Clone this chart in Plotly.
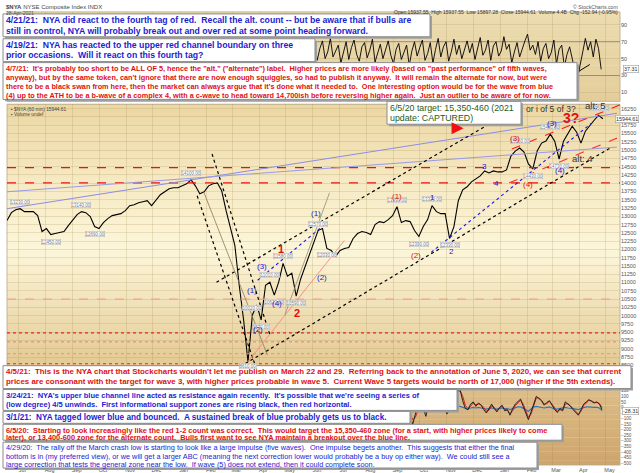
import pandas as pd
import plotly.graph_objects as go

# --- data --------------------------------------------------------------------
# NYA 60-min chart, sampled every 5 calendar days
price_dates = pd.date_range("2019-06-18", periods=137, freq="5D")
nya_close = [12870, 13110, 13200, 13230, 13140, 13140, 13140, 13020, 12540, 12630,
             12450, 12480, 12510, 12540, 12720, 12900, 13050, 13140, 13110, 12990,
             12690, 12630, 12810, 12930, 13020, 13050, 13080, 13170, 13320, 13350,
             13410, 13440, 13470, 13320, 13500, 13650, 13740, 13830, 13860, 13860,
             13920, 13980, 14100, 13920, 13680, 13740, 13920, 13980, 14010, 13770,
             13170, 12630, 12120, 10920, 9870, 8610, 10020, 10320, 9870, 10920,
             11010, 10620, 11010, 11580, 11190, 11280, 10590, 11100, 11460, 11820,
             12180, 12570, 12630, 12030, 11970, 11790, 11970, 12030, 12060, 12330,
             12480, 12540, 12510, 12450, 12750, 12840, 12810, 12900, 13020, 13290,
             12810, 12870, 12840, 12570, 12390, 12690, 12900, 13320, 13140, 13080,
             13080, 12330, 12690, 13470, 13800, 13890, 14040, 14130, 14220, 14370,
             14310, 14370, 14340, 14340, 14400, 14820, 14970, 15060, 14940, 14580,
             14430, 14970, 15210, 15270, 15480, 15270, 14730, 15270, 15480, 15720,
             15540, 15210, 15570, 15750, 15900, 16050, 15944.61]

# RSI panel (only the visible right part), every 3 days
rsi_dates = pd.date_range("2020-05-31", periods=111, freq="3D")
rsi = [55, 68, 48, 62, 71, 50, 58, 74, 52, 60,
       66, 45, 57, 70, 49, 63, 72, 55, 47, 64,
       69, 51, 60, 73, 46, 58, 67, 50, 62, 71,
       54, 44, 61, 68, 49, 57, 66, 42, 59, 70,
       53, 63, 72, 48, 56, 69, 45, 61, 74, 52,
       64, 70, 47, 58, 73, 55, 66, 50, 62, 71,
       57, 68, 49, 63, 75, 54, 60, 72, 48, 65,
       70, 53, 59, 76, 61, 67, 45, 58, 69, 52,
       63, 71, 79, 60, 66, 55, 70, 47, 62, 68,
       50, 57, 72, 44, 61, 66, 40, 55, 64, 48,
       36, 27, 45, 58, 74, 60, 70, 52, 73, 62, 37.31]

# lower indicator panel (visible right part), every 3 days
osc_dates = pd.date_range("2020-09-14", periods=76, freq="3D")
osc_black = [40, -20, -90, -150, -60, 20, 60, -10, -80, 30,
             90, 40, -30, 20, 70, 10, -60, -20, 50, 110,
             150, 160, 60, -10, -20, 30, 50, 10, 40, 20,
             -20, -50, -10, 30, -10, -40, 0, 20, -30, -20,
             -70, -10, 30, 50, 75, 10, -60, -110, -40, 40,
             100, 80, 60, 20, 45, 60, 20, -20, -45, -10,
             -30, 50, 30, 10, -20, -50, -70, -20, 30, 50,
             70, 55, 40, 50, 30, -20]
osc_red = [30, 0, -60, -110, -90, -20, 40, 20, -50, 0,
           60, 55, 0, 10, 50, 30, -30, -30, 20, 80,
           130, 150, 100, 20, -10, 10, 40, 25, 30, 25,
           0, -35, -25, 15, 0, -30, -10, 10, -15, -25,
           -55, -30, 15, 40, 65, 30, -35, -90, -60, 15,
           85, 85, 65, 30, 35, 55, 30, -5, -35, -20,
           -25, 30, 35, 15, -10, -40, -60, -35, 15, 40,
           65, 60, 45, 45, 35, 0]
osc_blue = [-5, -10, -25, -40, -30, -10, 0, -5, -20, -10,
            5, 0, -10, -5, 5, 0, -15, -10, 0, 10,
            15, 10, 0, -10, -15, -5, 0, -5, 0, -5,
            -10, -15, -10, -5, -10, -15, -10, -5, -10, -10,
            -20, -10, 0, 5, 5, -5, -20, -35, -15, 5,
            10, 5, 0, -5, 0, 5, -5, -15, -15, -10,
            -10, 0, -5, -5, -10, -15, -20, -10, 0, 5,
            5, 0, 0, 0, -5, -28.31]

# horizontal support/resistance levels
red_levels = [14470, 14010]
low_levels = [10500, 9480, 9210, 8850, 8550]

# peaks / troughs that carry a price tag
tag_tops = [3, 17, 42, 56, 60, 63, 71, 89, 97, 117, 124, 135]
tag_bottoms = [10, 20, 55, 58, 61, 66, 73, 94, 101, 120, 126]

FONT = "Liberation Sans, Arial, sans-serif"
BLUE = "#1c1cd2"
RED = "#e01010"


def px(x):
    return x / 640


def py(y):
    return 1 - y / 473


def mix(c1, c2, t):
    a = [int(c1[i:i + 2], 16) for i in (1, 3, 5)]
    b = [int(c2[i:i + 2], 16) for i in (1, 3, 5)]
    return "rgb(%d,%d,%d)" % tuple(round(a[k] + (b[k] - a[k]) * t) for k in range(3))


fig = go.Figure()

fig.add_trace(go.Scatter(x=price_dates, y=nya_close, mode="lines", yaxis="y2",
                         line=dict(color="black", width=1.1), hoverinfo="skip"))
fig.add_trace(go.Scatter(x=rsi_dates, y=rsi, mode="lines", yaxis="y3",
                         line=dict(color="black", width=0.9), hoverinfo="skip"))
fig.add_trace(go.Scatter(x=osc_dates, y=osc_blue, mode="lines", yaxis="y",
                         line=dict(color="#2f78c0", width=1.2), hoverinfo="skip"))
fig.add_trace(go.Scatter(x=osc_dates, y=osc_red, mode="lines", yaxis="y",
                         line=dict(color="#d42020", width=1), hoverinfo="skip"))
fig.add_trace(go.Scatter(x=osc_dates, y=osc_black, mode="lines", yaxis="y",
                         line=dict(color="#222", width=1), hoverinfo="skip"))

shapes = []
edge = "#b8a888"

# gradient backgrounds (bands) plus a thin frame per panel
def gradient(yref, stops, n=40):
    for i in range(n):
        t0, t1 = i / n, (i + 1) / n
        tm = (t0 + t1) / 2
        for j in range(len(stops) - 1):
            if stops[j][0] <= tm <= stops[j + 1][0]:
                f = (tm - stops[j][0]) / (stops[j + 1][0] - stops[j][0])
                col = mix(stops[j][1], stops[j + 1][1], f)
                break
        shapes.append(dict(type="rect", xref="x domain", yref=yref + " domain",
                           x0=0, x1=1, y0=t0, y1=t1 + 0.002, fillcolor=col,
                           line=dict(width=0), layer="below"))
    shapes.append(dict(type="rect", xref="x domain", yref=yref + " domain",
                       x0=0, x1=1, y0=0, y1=1, fillcolor="rgba(0,0,0,0)",
                       line=dict(color=edge, width=0.8), layer="below"))

gradient("y2", [(0, "#e3c790"), (0.45, "#fcf6d9"), (0.7, "#f6eac4"), (1, "#ecd7a4")])
gradient("y3", [(0, "#e3cd9a"), (1, "#ecdcb0")], n=20)
gradient("y", [(0, "#cea46b"), (1, "#e0c38f")], n=20)

# RSI 30/70 lines
for lv in (30, 70):
    shapes.append(dict(type="line", xref="x domain", yref="y3", x0=0, x1=1, y0=lv, y1=lv,
                       line=dict(color="#8a8070", width=0.8), layer="below"))

# horizontal levels on the price panel
for lv in red_levels:
    shapes.append(dict(type="line", xref="x domain", yref="y2", x0=0, x1=1, y0=lv, y1=lv,
                       line=dict(color="#ee1111", width=1.4, dash="dash")))
for lv, col in zip(low_levels, ["#f3a38f", "#ee2222", "#f58a80", "#f58a80", "#ee2222"]):
    shapes.append(dict(type="line", xref="x domain", yref="y2", x0=0, x1=1, y0=lv, y1=lv,
                       line=dict(color=col, width=1.1, dash="dash" if lv == 10500 else "dot")))

# trend lines (date0, price0, date1, price1, colour, width, dash)
trend = [
    ("2019-06-18", 13230, "2021-05-14", 16110, "#8c8ce6", 1, "solid"),
    ("2019-06-18", 13740, "2021-05-14", 15090, "#9a9ae6", 1, "solid"),
    ("2020-10-14", 11910, "2021-04-15", 15810, "#1414ff", 1.1, "dot"),
    ("2020-03-30", 11070, "2020-06-17", 12810, "#1414ff", 1.1, "dot"),
    ("2020-03-10", 8460, "2021-05-08", 15090, "black", 1.2, "dot"),
    ("2020-02-12", 11010, "2021-01-23", 16320, "black", 1.2, "dot"),
    ("2020-02-07", 14880, "2020-04-13", 9420, "black", 1.2, "dot"),
    ("2020-01-21", 13620, "2020-03-27", 8520, "black", 1.2, "dot"),
    ("2020-01-28", 13770, "2020-04-10", 8820, "#8a7a60", 0.8, "solid"),
    ("2020-03-19", 8610, "2020-07-07", 12270, "#f08a80", 0.9, "solid"),
    ("2020-04-30", 10020, "2020-06-20", 13710, "#9a8a70", 0.8, "solid"),
    ("2021-01-14", 15030, "2021-05-19", 16380, "#ff1a1a", 1.1, "dash"),
    ("2021-01-11", 14010, "2021-05-14", 15360, "#ff3030", 1.1, "dash"),
]
for d0, p0, d1, p1, col, w, dash in trend:
    shapes.append(dict(type="line", xref="x", yref="y2", x0=d0, y0=p0, x1=d1, y1=p1,
                       line=dict(color=col, width=w, dash=dash)))
shapes.append(dict(type="line", xref="x", yref="y3", x0="2021-03-31", y0=34.7,
                   x1="2021-04-13", y1=43, line=dict(color="black", width=1)))

annotations = []

# price tags
for i in tag_tops + tag_bottoms:
    annotations.append(dict(x=price_dates[i], y=nya_close[i], xref="x", yref="y2",
                            text="%.2f" % nya_close[i], showarrow=False,
                            yshift=7 if i in tag_tops else (-4 if i == 55 else -7),
                            font=dict(family=FONT, size=4.5, color="#777"),
                            bgcolor="white", bordercolor="#aaa", borderwidth=0.5, borderpad=0))

# wave labels
waves = [
    ("(1)", "2020-03-23", 10770, BLUE, 8), ("(2)", "2020-03-30", 9570, BLUE, 8),
    ("(3)", "2020-04-04", 11490, BLUE, 8), ("(4)", "2020-04-21", 10380, BLUE, 8),
    ("(1)", "2020-06-05", 13080, BLUE, 8), ("(2)", "2020-06-11", 11160, BLUE, 8),
    ("1", "2020-10-15", 13560, BLUE, 8), ("2", "2020-11-06", 11940, BLUE, 8),
    ("3", "2020-12-14", 14490, BLUE, 8), ("4", "2020-12-27", 13980, BLUE, 8),
    ("(3)", "2021-03-01", 15810, BLUE, 8), ("(4)", "2021-03-10", 14370, BLUE, 8),
    ("(1)", "2020-09-05", 13590, RED, 8), ("(2)", "2020-09-27", 11820, RED, 8),
    ("(3)", "2021-01-18", 15360, RED, 8), ("(4)", "2021-02-01", 13950, RED, 8),
    ("<b>1</b>", "2020-04-26", 12000, RED, 11), ("<b>2</b>", "2020-05-14", 10080, RED, 11),
    ("<b>3?</b>", "2021-03-23", 15960, RED, 14),
    ("alt: 5", "2021-04-20", 16350, "#333", 9.5), ("alt: 4", "2021-04-05", 14760, "#333", 9.5),
    ("or i of 5 of 3?", "2021-02-28", 16230, "#333", 8.5),
]
for txt, d, p, col, sz in waves:
    annotations.append(dict(x=d, y=p, xref="x", yref="y2", text=txt, showarrow=False,
                            font=dict(family=FONT, size=sz, color=col)))

# small red arrow
annotations.append(dict(x="2020-11-20", y=15660, xref="x", yref="y2", text="",
                        showarrow=True, ax=-9, ay=0, arrowhead=2, arrowsize=0.8,
                        arrowwidth=3, arrowcolor="#ee1111"))

# right-axis value boxes
for yref, val, txt in [("y2", 15944.61, "15944.61"), ("y3", 37.31, "37.31"), ("y", -28.31, "-28.31")]:
    annotations.append(dict(x=px(639), y=val, xref="paper", yref=yref, text=txt,
                            showarrow=False, xanchor="right",
                            font=dict(family=FONT, size=5.3, color="#333"),
                            bgcolor="white", bordercolor="#999", borderwidth=0.6, borderpad=0.5))

# header
head = [
    ("<b>$NYA</b> NYSE Composite Index INDX", 4, 0, "left", 6, "#444"),
    ("28-Apr-2021", 4, 6, "left", 5, "#555"),
    ("\u00a9 StockCharts.com", 620, 0, "right", 5.2, "#555"),
    ("Open 15937.55  High 15937.55  Low 15897.28  Close 15944.61  Volume 4.4B  Chg -152.94 (-0.95%)",
     620, 5, "right", 5, "#333"),
    ("\u25aa $NYA (60 min) 15944.61", 9, 104, "left", 4.8, "#444"),
    ("\u25aa Volume undef", 9, 109, "left", 4.8, "#444"),
]
for txt, x, y, anc, sz, col in head:
    annotations.append(dict(x=px(x), y=py(y), xref="paper", yref="paper", text=txt,
                            showarrow=False, xanchor=anc, yanchor="top",
                            font=dict(family=FONT, size=sz, color=col)))

# commentary boxes: (x0, y0, x1, y1) in px, lines, colour, size, bold, line step
boxes = [
    ((3, 12, 430, 35),
     ["4/21/21:  NYA did react to the fourth tag of red.  Recall the alt. count -- but be aware that if bulls are",
      "still in control, NYA will probably break out and over red at some point heading forward."],
     BLUE, 8.7, True, 10.8),
    ((3, 37, 315, 60),
     ["4/19/21:  NYA has reacted to the upper red channel boundary on three",
      "prior occasions.  Will it react on this fourth tag?"],
     BLUE, 8.7, True, 10.5),
    ((3, 61, 577, 98),
     ["4/7/21:  It's probably too short to be ALL OF 5, hence the \"alt.\" (\"alternate\") label.  Higher prices are more likely (based on \"past performance\" of fifth waves,",
      "anyway), but by the same token, can't ignore that there are now enough squiggles, so had to publish it anyway.  It will remain the alternate for now, but were",
      "there to be a black swan from here, then the market can always argue that it's done what it needed to.  One interesting option would be for the wave from blue",
      "(4) up to the ATH to be a b-wave of a complex 4, with a c-wave to head toward 14,700ish before reversing higher again.  Just an outlier to be aware of for now."],
     RED, 7.3, True, 9.2),
    ((387, 100, 521, 123),
     ["6/5/20 target: 15,350-460 (2021", "update: CAPTURED)"],
     "#1d5c1d", 8.8, False, 10.8),
    ((3, 366, 631, 389),
     ["4/5/21:  This is the NYA chart that Stockcharts wouldn't let me publish on March 22 and 29.  Referring back to the annotation of June 5, 2020, we can see that current",
      "prices are consonant with the target for wave 3, with higher prices probable in wave 5.  Current Wave 5 targets would be north of 17,000 (higher if the 5th extends)."],
     RED, 7.9, True, 10),
    ((3, 390, 457, 411),
     ["3/24/21:  NYA's upper blue channel line acted as resistance again recently.  It's possible that we're seeing a series of",
      "(low degree) 4/5 unwinds.  First informational support zones are rising black, then red horizontal."],
     BLUE, 7.5, True, 9.5),
    ((3, 412, 410, 424),
     ["3/1/21:  NYA tagged lower blue and bounced.  A sustained break of blue probably gets us to black."],
     BLUE, 8.2, True, 10),
    ((3, 425, 562, 441),
     ["6/5/20:  Starting to look increasingly like the red 1-2 count was correct.  This would target the 15,350-460 zone (for a start, with higher prices likely to come",
      "later), or 13,400-600 zone for the alternate count.  Bulls first want to see NYA maintain a breakout over the blue line."],
     RED, 7.4, True, 7.6),
    ((3, 443, 537, 469),
     ["4/29/20:  The rally off the March crash low is starting to look like a large impulse (five waves).  One impulse begets another.  This suggests that either the final",
      "bottom is in (my preferred view), or we will get a larger ABC (meaning the next correction lower would probably be a buy op either way).  We could still see a",
      "large correction that tests the general zone near the low.  If wave (5) does not extend, then it could complete soon."],
     BLUE, 7.3, False, 8.3),
]
for (x0, y0, x1, y1), lines, col, sz, bold, step in boxes:
    shapes.append(dict(type="rect", xref="paper", yref="paper", x0=px(x0 + 2), x1=px(x1 + 2),
                       y0=py(y1 + 2), y1=py(y0 + 2), fillcolor="#a0a0a0",
                       line=dict(width=0), layer="above"))
    shapes.append(dict(type="rect", xref="paper", yref="paper", x0=px(x0), x1=px(x1),
                       y0=py(y1), y1=py(y0), fillcolor="white",
                       line=dict(color="#8c8c8c", width=1), layer="above"))
    for k, ln in enumerate(lines):
        annotations.append(dict(x=px(x0 + 2), y=py(y0 + 0.3 + k * step), xref="paper", yref="paper",
                                text="<b>%s</b>" % ln if bold else ln, showarrow=False,
                                xanchor="left", yanchor="top", align="left", borderpad=0,
                                font=dict(family=FONT, size=sz, color=col)))

grid = "rgba(150,120,60,0.18)"
tickfont = dict(family=FONT, size=5.5, color="#555")

fig.update_layout(
    width=640, height=473,
    margin=dict(l=0, r=0, t=0, b=0),
    paper_bgcolor="white", plot_bgcolor="#f6ecc8",
    showlegend=False,
    shapes=shapes, annotations=annotations,
    xaxis=dict(domain=[px(7), px(620)], range=["2019-06-18", "2021-05-17 12:00"],
               anchor="y", type="date", dtick="M1", tickformat="%b", ticks="",
               ticklabelshift=4,
               tickfont=tickfont, showgrid=True, gridcolor=grid, gridwidth=0.8,
               zeroline=False, showline=False),
    yaxis=dict(domain=[py(466), py(374)], range=[-518, 304], side="right",
               tickvals=list(range(-500, 301, 50)), tickformat="d",
               tickfont=dict(family=FONT, size=4.6, color="#555"),
               showgrid=False, zeroline=False, ticks=""),
    yaxis2=dict(domain=[py(372), py(103)], range=[8310, 16380], side="right", anchor="x",
                tickvals=list(range(8500, 16251, 250)), tickformat="d", tickfont=tickfont,
                showgrid=True, gridcolor=grid, gridwidth=0.8, zeroline=False, ticks=""),
    yaxis3=dict(domain=[py(100), py(10)], range=[-0.6, 105.3], side="right", anchor="x",
                tickvals=[10, 30, 50, 70, 90], tickformat="d", tickfont=tickfont,
                showgrid=True, gridcolor=grid, zeroline=False, ticks=""),
)

fig.write_html("out.html", config={"displayModeBar": False},
               post_script="document.body.style.margin='0';document.body.style.padding='0';")
